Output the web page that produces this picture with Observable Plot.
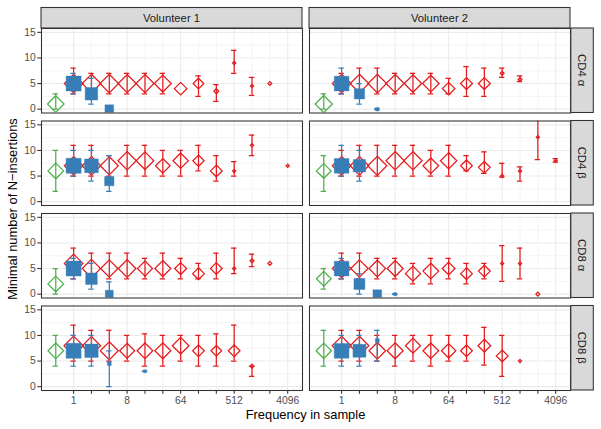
<!DOCTYPE html>
<html>
<head>
<meta charset="utf-8">
<script src="https://cdn.jsdelivr.net/npm/d3@7"></script>
<script src="https://cdn.jsdelivr.net/npm/@observablehq/plot@0.6"></script>
<style>
  html, body { margin: 0; padding: 0; background: #fff; }
</style>
</head>
<body>
<div id="chart"></div>
<script>
// facet categories
const rows = ["CD4 α", "CD4 β", "CD8 α", "CD8 β"];
const cols = ["Volunteer 1", "Volunteer 2"];

// axis tick values
const xMajor = [1, 8, 64, 512, 4096];
const xMinor = [2, 4, 16, 32, 128, 256, 1024, 2048];
const yMajor = [0, 5, 10, 15];
const yMinor = [2.5, 7.5, 12.5];

// each point: [group, frequency, mean, lower, upper, clone count]
// group G = green open diamond, B = blue square, R = red open diamond
const cd4a_v1 = [
  ["G", 0.5, 1, 0, 3, 56],
  ["R", 1, 5, 3, 8, 70], ["R", 2, 5, 3, 7, 70], ["R", 4, 5, 3, 7, 70],
  ["R", 8, 5, 3, 7, 66], ["R", 16, 5, 3, 7, 66], ["R", 32, 5, 3, 7, 58],
  ["R", 64, 4, null, null, 32], ["R", 128, 5, 2.5, 6.5, 23], ["R", 256, 3.5, 1.5, 4.8, 5],
  ["R", 512, 9, 7, 11.5, 2], ["R", 1024, 4.5, 2.7, 6.2, 2], ["R", 2048, 5, null, null, 3],
  ["B", 1, 5, 3, 7, 72], ["B", 2, 3, 1, 6, 50], ["B", 4, 0, null, null, 24]
];
const cd4a_v2 = [
  ["G", 0.5, 1, 0, 3, 60],
  ["R", 1, 5, 3, 7, 70], ["R", 2, 5, 3, 8, 70], ["R", 4, 5, 3, 8, 70],
  ["R", 8, 5, 3, 7, 66], ["R", 16, 5, 3, 7, 62], ["R", 32, 5, 3, 7, 56],
  ["R", 64, 4, 3, 6, 32], ["R", 128, 5, 2.5, 8.3, 29], ["R", 256, 5, 2.5, 8, 29],
  ["R", 512, 7, 6.2, 8, 3], ["R", 1024, 5.8, 5.4, 6.5, 3],
  ["B", 1, 5, 3, 8, 69], ["B", 2, 3, 1, 5, 34], ["B", 4, 0, 0, 0, 4]
];
const cd4b_v1 = [
  ["G", 0.5, 6, 2, 10, 50],
  ["R", 1, 7, 5, 11, 70], ["R", 2, 7, 5, 11, 70], ["R", 4, 7, 5, 9, 66],
  ["R", 8, 8, 5, 11, 68], ["R", 16, 8, 5, 11, 63], ["R", 32, 7, 5, 10, 43],
  ["R", 64, 8, 5, 10, 48], ["R", 128, 8, 6, 11, 26], ["R", 256, 6, 4, 9, 28],
  ["R", 512, 6, 5, 7.8, 2], ["R", 1024, 11, 9, 13, 2], ["R", 4096, 7, null, null, 2],
  ["B", 1, 7, 5, 10, 72], ["B", 2, 7, 4, 10, 60], ["B", 4, 4, 2, 9, 28]
];
const cd4b_v2 = [
  ["G", 0.5, 6, 2, 9, 44],
  ["R", 1, 7, 5, 10, 70], ["R", 2, 7, 5, 11, 70], ["R", 4, 7, 5, 11, 74],
  ["R", 8, 8, 5, 11, 68], ["R", 16, 8, 5, 11, 68], ["R", 32, 7, 5, 10, 50],
  ["R", 64, 8, 5, 11, 54], ["R", 128, 7, 6, 9, 28], ["R", 256, 6.7, 5.5, 9.7, 28],
  ["R", 512, 5, 4.8, 7.5, 2], ["R", 1024, 6, 4, 6.8, 2], ["R", 2048, 12.6, 8.2, 17, 2],
  ["R", 4096, 8, 7.7, 8.4, 2],
  ["B", 1, 7, 5, 11, 69], ["B", 2, 7, 4, 10, 49]
];
const cd8a_v1 = [
  ["G", 0.5, 2, 0, 5, 50],
  ["R", 1, 6, 3, 9, 70], ["R", 2, 5, 3, 8, 68], ["R", 4, 5, 3, 8, 61],
  ["R", 8, 5, 3, 8, 63], ["R", 16, 5, 3, 7, 46], ["R", 32, 5, 3, 8, 52],
  ["R", 64, 5, 3, 7, 29], ["R", 128, 4, 3, 6, 28], ["R", 256, 5, 3, 8, 28],
  ["R", 512, 5, 4, 9, 2], ["R", 1024, 6.5, 5.4, 7.8, 3], ["R", 2048, 6, null, null, 3],
  ["B", 1, 5, 3, 7, 72], ["B", 2, 3, 1, 6, 43], ["B", 4, 0, 0, 2.4, 20]
];
const cd8a_v2 = [
  ["G", 0.5, 3, 1, 5, 44],
  ["R", 1, 5, 3, 8, 70], ["R", 2, 5, 3, 8, 61], ["R", 4, 5, 3, 7, 56],
  ["R", 8, 5, 3, 7, 52], ["R", 16, 4, 2, 6, 46], ["R", 32, 4.5, 2, 7, 50],
  ["R", 64, 5, 3, 7, 33], ["R", 128, 4, 2, 6, 28], ["R", 256, 4.5, 3, 6, 28],
  ["R", 512, 6, 2.5, 9.5, 2], ["R", 1024, 6, 3, 9, 2], ["R", 2048, 0, null, null, 3],
  ["B", 1, 5, 3, 7, 69], ["B", 2, 2, 0, 4, 38], ["B", 4, 0, null, null, 24], ["B", 8, 0, 0, 0, 3]
];
const cd8b_v1 = [
  ["G", 0.5, 7, 4, 10, 50],
  ["R", 1, 8, 5, 12, 75], ["R", 2, 8, 5, 11, 68], ["R", 4, 7, 5, 11, 66],
  ["R", 8, 7, 5, 10, 46], ["R", 16, 7, 4, 10.3, 50], ["R", 32, 7, 4, 10, 52],
  ["R", 64, 8, 5, 10, 56], ["R", 128, 7, 4, 10, 28], ["R", 256, 7, 4, 10.3, 23],
  ["R", 512, 7, 5, 12, 28], ["R", 1024, 4, 2, 4, 3],
  ["B", 1, 7, 4, 10, 72], ["B", 2, 7, 4, 10, 57], ["B", 4, 4.5, 0, 7, 5], ["B", 16, 3, 3, 3, 3]
];
const cd8b_v2 = [
  ["G", 0.5, 7, 4, 11, 48],
  ["R", 1, 8, 5, 11, 72], ["R", 2, 8, 5, 11, 72], ["R", 4, 7, 5, 10, 56],
  ["R", 8, 7, 4, 10, 52], ["R", 16, 8, 5, 10, 46], ["R", 32, 7, 4, 10, 50],
  ["R", 64, 7, 5, 10, 42], ["R", 128, 7, 5, 10, 28], ["R", 256, 8, 4.2, 11.6, 33],
  ["R", 512, 6, 2, 10, 28], ["R", 1024, 5, null, null, 2],
  ["B", 1, 7, 4, 10, 69], ["B", 2, 7, 4, 10, 54], ["B", 4, 9, 5, 11, 5]
];

const panels = [
  ["CD4 α", "Volunteer 1", cd4a_v1], ["CD4 α", "Volunteer 2", cd4a_v2],
  ["CD4 β", "Volunteer 1", cd4b_v1], ["CD4 β", "Volunteer 2", cd4b_v2],
  ["CD8 α", "Volunteer 1", cd8a_v1], ["CD8 α", "Volunteer 2", cd8a_v2],
  ["CD8 β", "Volunteer 1", cd8b_v1], ["CD8 β", "Volunteer 2", cd8b_v2]
];

const data = panels.flatMap(([row, col, pts]) =>
  pts.map(([g, x, y, lo, hi, n]) => ({row, col, g, x, y, lo, hi, n})));
const red = data.filter(d => d.g === "R");
const blue = data.filter(d => d.g === "B");
const green = data.filter(d => d.g === "G");

const RED = "#E41A1C", BLUE = "#377EB8", GREEN = "#4DAF4A";
const LW = 1.07;
const MW = 1.25;
const CAP = Math.pow(2, 0.15);
const facet = {fx: "col", fy: "row"};

function errorbars(arr, color) {
  const e = arr.filter(d => d.lo != null);
  const common = {...facet, stroke: color, strokeWidth: MW, clip: true};
  return [
    Plot.ruleX(e, {x: "x", y1: "lo", y2: "hi", ...common}),
    Plot.ruleY(e, {y: "hi", x1: d => d.x / CAP, x2: d => d.x * CAP, ...common}),
    Plot.ruleY(e, {y: "lo", x1: d => d.x / CAP, x2: d => d.x * CAP, ...common})
  ];
}

const chart = Plot.plot({
  width: 601,
  height: 429,
  marginLeft: 41,
  marginRight: 31,
  marginTop: 28,
  marginBottom: 39,
  style: {fontFamily: "'Liberation Sans', Arial, sans-serif", fontSize: "10.3px", background: "#fff"},
  fx: {domain: cols, paddingInner: 7 / 268, paddingOuter: 0, round: false, axis: null, label: null},
  fy: {domain: rows, paddingInner: 8 / 92.5, paddingOuter: 0, round: false, axis: null, label: null},
  x: {type: "log", base: 2, domain: [Math.pow(2, -1.8), Math.pow(2, 12.83)], label: null},
  y: {domain: [-0.75, 15.75], label: null},
  r: {type: "sqrt", domain: [0, 100], range: [0, 10]},
  marks: [
    Plot.gridX({ticks: xMinor, stroke: "#ebebeb", strokeOpacity: 1, strokeWidth: 0.55}),
    Plot.gridY({ticks: yMinor, stroke: "#ebebeb", strokeOpacity: 1, strokeWidth: 0.55}),
    Plot.gridX({ticks: xMajor, stroke: "#ebebeb", strokeOpacity: 1, strokeWidth: LW}),
    Plot.gridY({ticks: yMajor, stroke: "#ebebeb", strokeOpacity: 1, strokeWidth: LW}),
    ...errorbars(red, RED),
    Plot.dot(red, {x: "x", y: "y", r: "n", ...facet, symbol: "diamond2", stroke: RED, fill: "none", strokeWidth: MW, clip: true}),
    ...errorbars(green, GREEN),
    Plot.dot(green, {x: "x", y: "y", r: "n", ...facet, symbol: "diamond2", stroke: GREEN, fill: "none", strokeWidth: MW, clip: true}),
    ...errorbars(blue, BLUE),
    Plot.dot(blue, {x: "x", y: "y", r: "n", ...facet, symbol: "square", fill: BLUE, stroke: BLUE, strokeWidth: 0.4, clip: true}),
    Plot.frame({stroke: "#333333", strokeWidth: LW}),
    Plot.axisX({ticks: xMinor, tickFormat: () => "", tickSize: 3.7, stroke: "#333333", strokeWidth: LW, label: null}),
    Plot.axisX({ticks: xMajor, tickFormat: d => String(d), tickSize: 3.7, tickPadding: 2.6, stroke: "#333333", strokeWidth: LW, fill: "#4d4d4d", label: null}),
    Plot.axisY({ticks: yMajor, tickSize: 3.7, tickPadding: 2, stroke: "#333333", strokeWidth: LW, fill: "#4d4d4d", label: null})
  ]
});

document.getElementById("chart").appendChild(chart);

// facet strips and axis titles
const svg = d3.select(chart.tagName.toLowerCase() === "svg" ? chart : chart.querySelector("svg"));
const fxS = chart.scale("fx"), fyS = chart.scale("fy");
const strips = svg.append("g").attr("class", "strips");
cols.forEach(c => {
  const x0 = fxS.apply(c), w = fxS.bandwidth;
  strips.append("rect").attr("x", x0).attr("y", 7.5).attr("width", w).attr("height", 20.5)
    .attr("fill", "#d9d9d9").attr("stroke", "#333333").attr("stroke-width", LW);
  strips.append("text").attr("x", x0 + w / 2).attr("y", 17.75).attr("text-anchor", "middle")
    .attr("dominant-baseline", "central").attr("fill", "#1a1a1a").attr("font-size", "11.3px").text(c);
});
rows.forEach(r => {
  const y0 = fyS.apply(r), h = fyS.bandwidth;
  const x0 = 601 - 31 + 0.8;
  strips.append("rect").attr("x", x0).attr("y", y0).attr("width", 22.5).attr("height", h)
    .attr("fill", "#d9d9d9").attr("stroke", "#333333").attr("stroke-width", LW);
  strips.append("text").attr("transform", `translate(${x0 + 11.25},${y0 + h / 2}) rotate(90)`)
    .attr("text-anchor", "middle").attr("dominant-baseline", "central")
    .attr("fill", "#1a1a1a").attr("font-size", "11.3px").text(r);
});
svg.append("text").attr("transform", "translate(12.5,209) rotate(-90)")
  .attr("text-anchor", "middle").attr("dominant-baseline", "central")
  .attr("fill", "#000").attr("font-size", "12.9px").text("Minimal number of N−insertions");
svg.append("text").attr("x", 305.5).attr("y", 419)
  .attr("text-anchor", "middle").attr("fill", "#000").attr("font-size", "12.9px").text("Frequency in sample");
</script>
</body>
</html>
